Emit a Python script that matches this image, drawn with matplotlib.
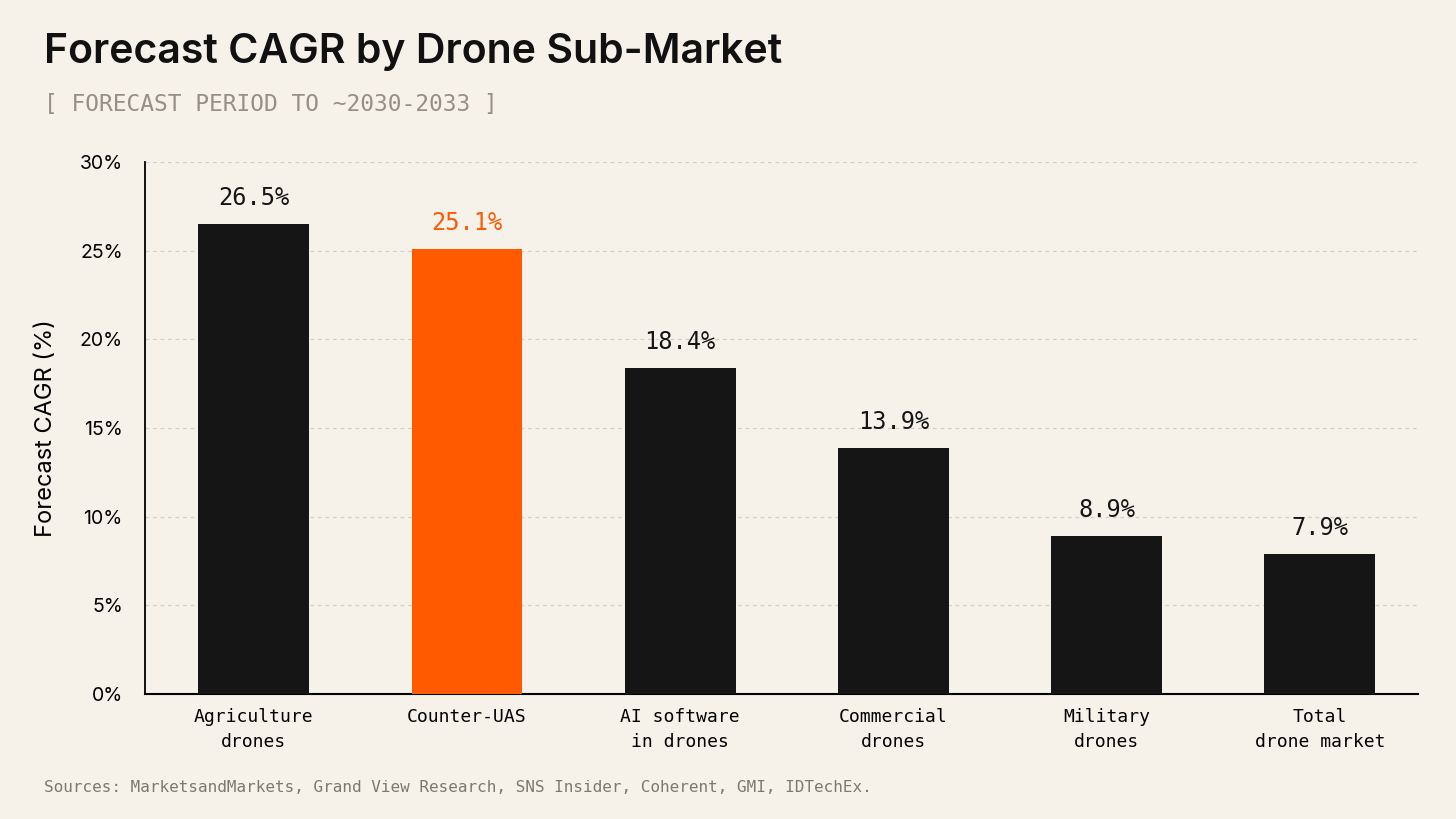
import matplotlib.pyplot as plt
from matplotlib.ticker import FuncFormatter

categories = ['Agriculture\ndrones', 'Counter-UAS', 'AI software\nin drones',
              'Commercial\ndrones', 'Military\ndrones', 'Total\ndrone market']
cagr = [26.5, 25.1, 18.4, 13.9, 8.9, 7.9]
highlight = 'Counter-UAS'
y_ticks = [0, 5, 10, 15, 20, 25, 30]

bg = '#F6F2EA'
dark = '#151515'
orange = '#FF5A00'
mono = ['DejaVu Sans Mono']
sans = ['Inter', 'DejaVu Sans']

fig = plt.figure(figsize=(14.56, 8.19), dpi=100, facecolor=bg)
ax = fig.add_axes([0.0996, 0.1526, 0.8743, 0.6496])
ax.set_facecolor(bg)

colors = [orange if c == highlight else dark for c in categories]
x = range(len(categories))
bars = ax.bar(x, cagr, width=0.52, color=colors, zorder=3)

for b, v, c in zip(bars, cagr, colors):
    ax.annotate(f'{v:.1f}%', (b.get_x() + b.get_width() / 2, v),
                xytext=(0, 10), textcoords='offset points',
                ha='center', va='bottom', fontsize=17, color=c, family=mono)

ax.set_xlim(-0.51, len(categories) - 0.54)
ax.set_ylim(0, 30)
ax.set_yticks(y_ticks)
ax.yaxis.set_major_formatter(FuncFormatter(lambda v, p: f'{v:.0f}%'))
ax.set_xticks(list(x))
ax.set_xticklabels(categories, family=mono, fontsize=13, linespacing=1.5)
for t in ax.get_yticklabels():
    t.set_family(sans)
    t.set_fontsize(14)
ax.tick_params(length=0)
ax.tick_params(axis='y', pad=16)
ax.tick_params(axis='x', pad=10)

ax.grid(axis='y', linestyle=(0, (3, 3)), color='#D4CFC6', linewidth=0.9, zorder=0)
for s in ['top', 'right']:
    ax.spines[s].set_visible(False)
ax.spines['left'].set_linewidth(1.3)
ax.spines['bottom'].set_linewidth(1.5)
ax.set_ylabel('Forecast CAGR (%)', fontsize=17, family=sans, labelpad=16)

fig.text(0.03, 0.937, 'Forecast CAGR by Drone Sub-Market', fontsize=29.5,
         fontweight='semibold', family=sans, color='#111111', va='center')
fig.text(0.03, 0.873, '[ FORECAST PERIOD TO ~2030-2033 ]', fontsize=16.5,
         family=mono, color='#958F86', va='center')
fig.text(0.03, 0.038, 'Sources: MarketsandMarkets, Grand View Research, SNS Insider, Coherent, GMI, IDTechEx.',
         fontsize=11.5, family=mono, color='#7D7870', va='center')

fig.savefig('out.png', dpi=100, facecolor=bg)
